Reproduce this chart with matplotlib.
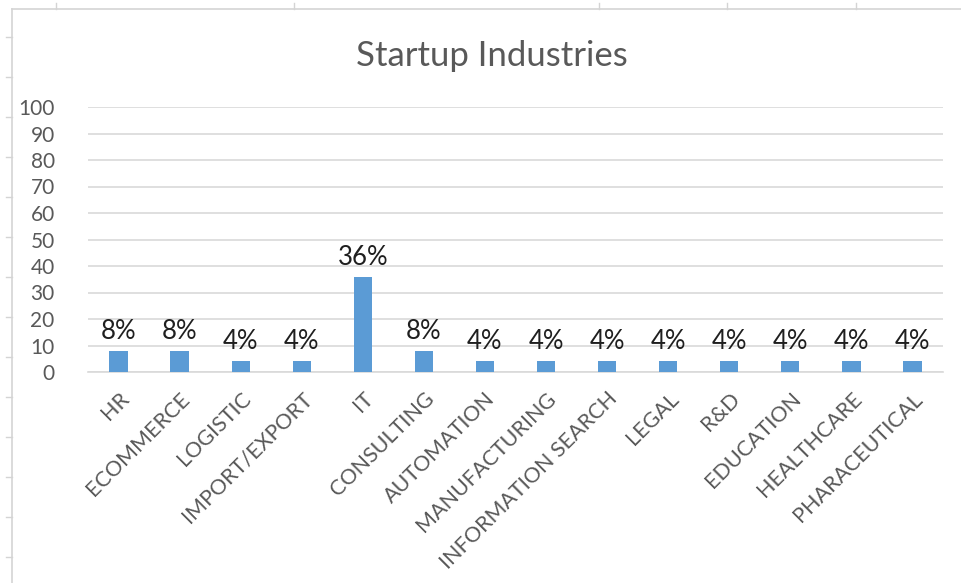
import matplotlib
matplotlib.use("Agg")
import matplotlib.pyplot as plt
from matplotlib.lines import Line2D

plt.rcParams['font.family'] = ['Lato', 'DejaVu Sans']

industries = ['HR', 'ECOMMERCE', 'LOGISTIC', 'IMPORT/EXPORT', 'IT', 'CONSULTING',
              'AUTOMATION', 'MANUFACTURING', 'INFORMATION SEARCH', 'LEGAL', 'R&D',
              'EDUCATION', 'HEALTHCARE', 'PHARACEUTICAL']
share = [8, 8, 4, 4, 36, 8, 4, 4, 4, 4, 4, 4, 4, 4]
yticks = [0, 10, 20, 30, 40, 50, 60, 70, 80, 90, 100]

W, H = 962, 583
fig = plt.figure(figsize=(W / 100, H / 100), dpi=100)
ax = fig.add_axes([88 / W, 1 - 372 / H, (943 - 88) / W, (372 - 107) / H])

# spreadsheet background: chart frame + row/column marks
grey = '#d4d4d4'
fig.add_artist(Line2D([12 / W, 12 / W], [0, 1 - 9 / H], color=grey, lw=1.2))
fig.add_artist(Line2D([12 / W, 1], [1 - 9 / H, 1 - 9 / H], color=grey, lw=1.2))
for ry in range(37, 583, 40):
    fig.add_artist(Line2D([6 / W, 12 / W], [1 - ry / H] * 2, color=grey, lw=1))
for cx in [56, 294, 599, 727, 856]:
    fig.add_artist(Line2D([cx / W] * 2, [1 - 3 / H, 1 - 9 / H], color=grey, lw=1))

x = range(len(industries))
bars = ax.bar(x, share, width=0.3, color='#5b9bd5', zorder=3)

for b, v in zip(bars, share):
    ax.annotate(f'{v}%', (b.get_x() + b.get_width() / 2, v),
                xytext=(0, 5), textcoords='offset points',
                ha='center', va='bottom', fontsize=18.5, color='#1f1f1f')

ax.set_xlim(-0.5, len(industries) - 0.5)
ax.set_ylim(0, 100)
ax.set_yticks(yticks)
ax.yaxis.grid(True, color='#d9d9d9', lw=1.2, zorder=0)
ax.set_axisbelow(True)
ax.tick_params(axis='y', length=0, labelsize=15, labelcolor='#595959', pad=24)
ax.set_xticks(list(x))
ax.set_xticklabels(industries, rotation=45, ha='right', rotation_mode='anchor',
                   fontsize=15.5, color='#595959')
ax.tick_params(axis='x', length=0, pad=12)
for s in ['top', 'right', 'left']:
    ax.spines[s].set_visible(False)
ax.spines['bottom'].set_color('#d9d9d9')
ax.spines['bottom'].set_linewidth(1.2)

fig.text(492 / W, 1 - 56 / H, 'Startup Industries', ha='center', va='center',
         fontsize=25, color='#595959')

fig.savefig('out.png', dpi=100)
